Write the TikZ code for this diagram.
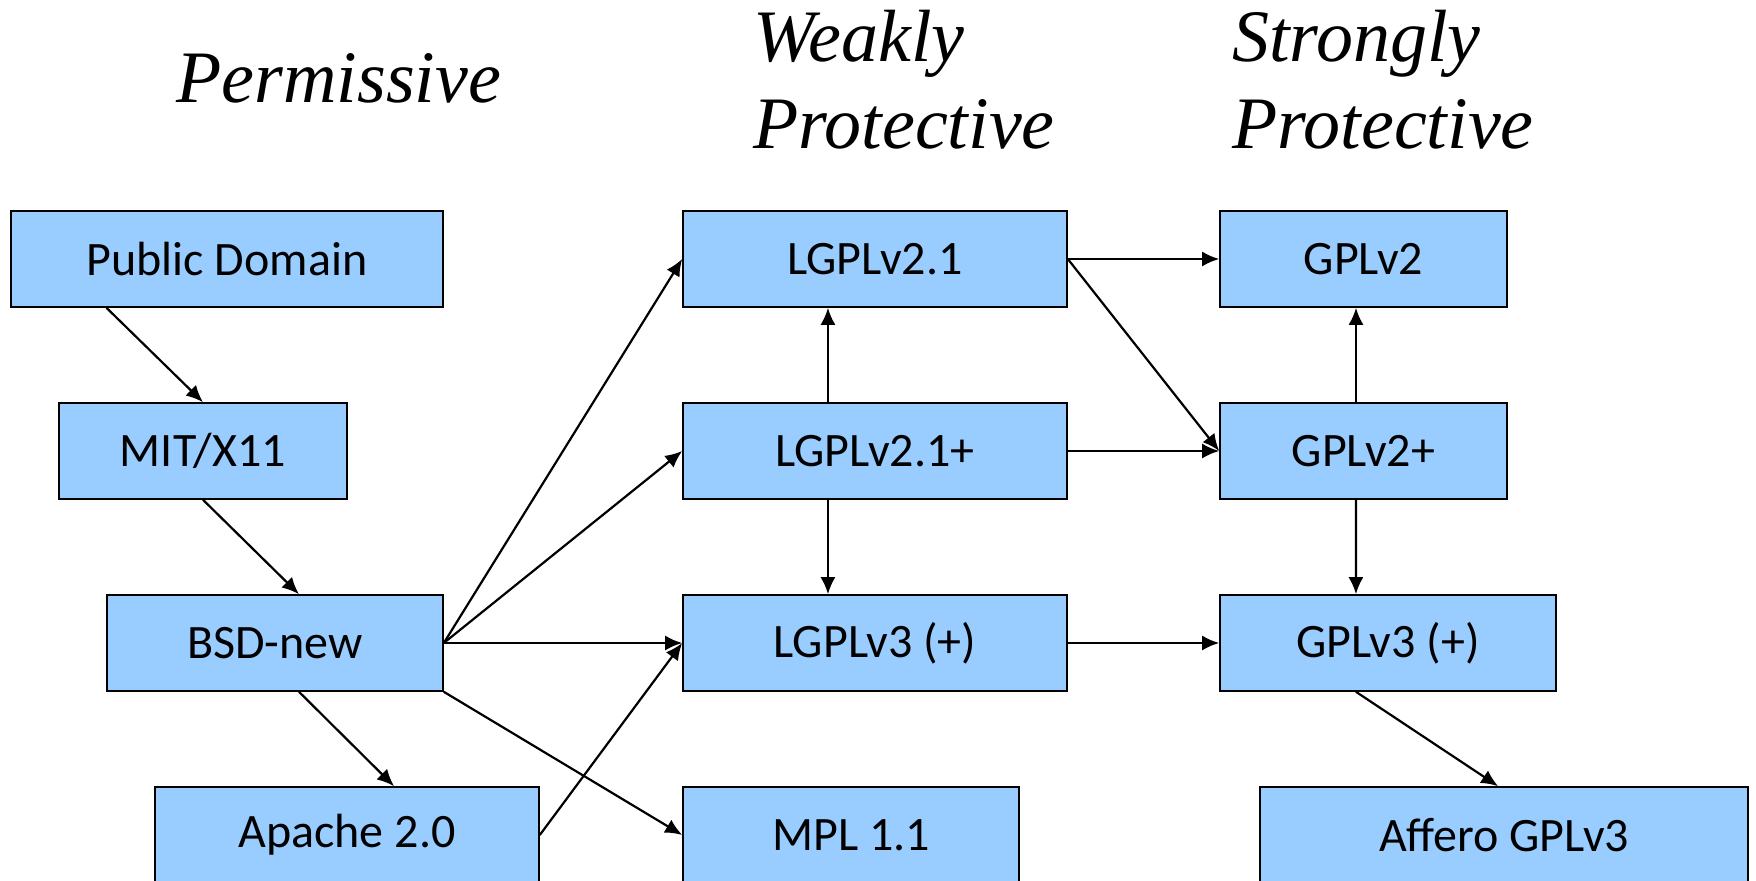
\documentclass[tikz,border=0pt]{standalone}
\usepackage{fontspec}
\setmainfont{Liberation Serif}
\newfontfamily\boxfont{Carlito}
\usetikzlibrary{arrows.meta,calc}
\definecolor{boxblue}{RGB}{153,204,255}
\tikzset{
  lic/.style={draw=black, line width=0.8pt, fill=boxblue, minimum height=48pt,
    inner sep=0pt, font=\boxfont\fontsize{24}{28}\selectfont},
  conn/.style={line width=1.1pt, -{Latex[length=8.5pt,width=7.5pt]}},
  title/.style={anchor=base west, inner sep=0pt, font=\itshape\fontsize{37}{44}\selectfont}
}
\begin{document}
\begin{tikzpicture}[x=0.5pt,y=-0.5pt]
\useasboundingbox (0,0) rectangle (1756,881);
\clip (0,0) rectangle (1756,881);
% titles
\node[title] (tperm) at (176,103) {Permissive};
\node[title] (tweak) at (753,62) {Weakly};
\node[title] (tweakp) at (753,149) {Protective};
\node[title] (tstrong) at (1232,62) {Strongly};
\node[title] (tstrongp) at (1232,149) {Protective};
% boxes
\node[lic, minimum width=216pt] (pd) at (227,259) {Public Domain};
\node[lic, minimum width=144pt] (mit) at (203,451) {MIT/X11};
\node[lic, minimum width=168pt] (bsd) at (275,643) {BSD-new};
\node[lic, minimum width=192pt] (apache) at (347,835) {Apache 2.0};
\node[lic, minimum width=192pt] (lg21) at (875,259) {LGPLv2.1};
\node[lic, minimum width=192pt] (lg21p) at (875,451) {LGPLv2.1+};
\node[lic, minimum width=192pt] (lg3) at (875,643) {LGPLv3 (+)};
\node[lic, minimum width=168pt] (mpl) at (851,835) {MPL 1.1};
\node[lic, minimum width=143.5pt] (gpl2) at (1363.5,259) {GPLv2};
\node[lic, minimum width=143.5pt] (gpl2p) at (1363.5,451) {GPLv2+};
\node[lic, minimum width=168pt] (gpl3) at (1388,643) {GPLv3 (+)};
\node[lic, minimum width=244pt] (agpl) at (1504,835) {Affero GPLv3};
% connectors
\draw[conn] ($(pd.south west)!0.222!(pd.south east)$) -- (mit.north);
\draw[conn] (mit.south) -- ($(bsd.north west)!0.571!(bsd.north east)$);
\draw[conn] ($(bsd.south west)!0.571!(bsd.south east)$) -- ($(apache.north west)!0.622!(apache.north east)$);
\draw[conn] (bsd.east) -- (lg21.west);
\draw[conn] (bsd.east) -- (lg21p.west);
\draw[conn] (bsd.east) -- (lg3.west);
\draw[conn] (bsd.south east) -- (mpl.west);
\draw[conn] (apache.east) -- (lg3.west);
\draw[conn] ($(lg21p.north west)!0.378!(lg21p.north east)$) -- ($(lg21.south west)!0.378!(lg21.south east)$);
\draw[conn] ($(lg21p.south west)!0.378!(lg21p.south east)$) -- ($(lg3.north west)!0.378!(lg3.north east)$);
\draw[conn] (lg21.east) -- (gpl2.west);
\draw[conn] (lg21.east) -- (gpl2p.west);
\draw[conn] (lg21p.east) -- (gpl2p.west);
\draw[conn] (lg3.east) -- (gpl3.west);
\draw[conn] ($(gpl2p.north west)!0.474!(gpl2p.north east)$) -- ($(gpl2.south west)!0.474!(gpl2.south east)$);
\draw[conn] ($(gpl2p.south west)!0.474!(gpl2p.south east)$) -- ($(gpl3.north west)!0.405!(gpl3.north east)$);
\draw[conn] ($(gpl3.south west)!0.405!(gpl3.south east)$) -- ($(agpl.north west)!0.488!(agpl.north east)$);
\end{tikzpicture}
\end{document}
